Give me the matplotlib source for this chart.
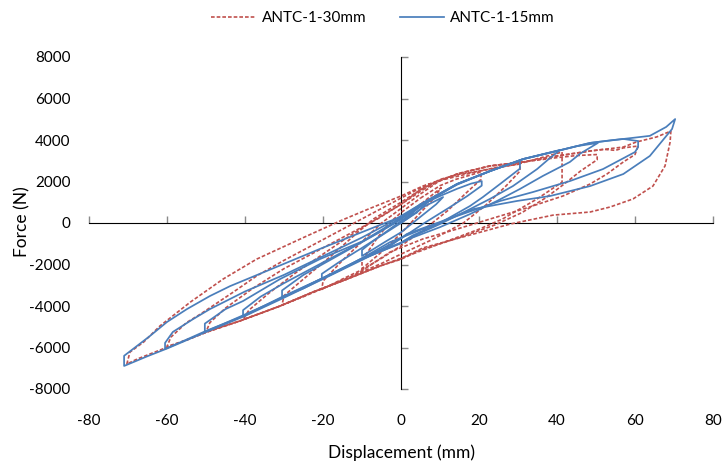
import matplotlib
matplotlib.use("Agg")
import matplotlib.pyplot as plt

# ---------------- data ----------------
# ANTC-1-15mm (blue, solid) : one path per displacement cycle
blue_c1_x = [0, 3, 6, 10.8, 9, 6, 3, 0, -4, -7, -10, -10, -7, -4, 0, 3]
blue_c1_f = [0, 400, 800, 1250, 900, 450, 0, -450, -900, -1250, -1590, -1300, -850, -450, 100, 500]

blue_c2_x = [3, 6, 10, 14.4, 18, 20.7, 20.7, 17, 12, 6, 0, -5, -10, -15, -20.3, -20.3, -16, -10, -5, 0, 4]
blue_c2_f = [500, 950, 1300, 1650, 1900, 2020, 1800, 1300, 700, 0, -750, -1250, -1700, -2200, -2700, -2450, -1900, -1200, -600, 0, 500]

blue_c3_x = [4, 8, 14.4, 22.8, 27, 30.5, 30.5, 25.4, 21, 17.7, 10, 3, 0, -10, -20.3, -25, -30.5, -30.5, -25, -15, -6, 0, 6]
blue_c3_f = [500, 1200, 1850, 2500, 2780, 2990, 2620, 1880, 1250, 820, 0, -600, -950, -1750, -2700, -3150, -3570, -3250, -2500, -1450, -500, 200, 1000]

blue_c4_x = [6, 14.4, 22.8, 31.3, 36, 40.8, 38, 34.9, 28.7, 22.8, 17.7, 10, 3, 0, -10, -20, -30.5, -35, -40.5, -40.5, -36, -30, -20, -10, -3, 5]
blue_c4_f = [1000, 1880, 2500, 3080, 3300, 3520, 3100, 2600, 1780, 1160, 670, -50, -650, -950, -1720, -2650, -3560, -3980, -4480, -4200, -3550, -2900, -1900, -900, -100, 900]

blue_c5_x = [5, 14.4, 22.8, 31.3, 40, 45, 50.5, 46, 43.3, 36.4, 30.5, 24.6, 17.7, 10, 3, 0, -10, -20, -30, -40.5, -45, -50.3, -50.3, -45, -40.5, -31, -20.8, -9.7, -2, 5]
blue_c5_f = [900, 1880, 2500, 3080, 3470, 3700, 3860, 3350, 2940, 2270, 1640, 1060, 430, -200, -700, -980, -1730, -2650, -3560, -4450, -4820, -5250, -4850, -4150, -3760, -2700, -1740, -870, -50, 800]

blue_c6_x = [5, 14.4, 22.8, 31.3, 40, 48.5, 54, 57, 60.8, 60.8, 60, 51.8, 43.3, 33.8, 25.4, 14.4, 5.6, -2.8, -10, -20, -30, -40, -50, -55, -60.5, -60.5, -58.5, -53.3, -49, -40, -30, -20, -10, -3, 5]
blue_c6_f = [800, 1880, 2500, 3080, 3470, 3860, 3990, 4050, 3950, 3660, 3420, 2600, 2020, 1490, 1060, 340, -290, -920, -1700, -2650, -3560, -4450, -5200, -5620, -6070, -5780, -5250, -4630, -4150, -3300, -2500, -1600, -700, 0, 900]

blue_c7_x = [5, 14.4, 22.8, 31.3, 40, 48.5, 57, 63.8, 68, 70.3, 69.5, 63.8, 57, 48.5, 38.2, 29.7, 18.5, 10, 1.5, -2.8, -10, -20, -30, -40, -50, -60, -65, -71, -71, -68.7, -64.4, -60, -54.9, -49, -43.8, -34.4, -20.8, -8, 0, 3]
blue_c7_f = [900, 1880, 2500, 3080, 3470, 3860, 4050, 4200, 4630, 5010, 4530, 3230, 2360, 1780, 1300, 1060, 670, 50, -530, -1110, -1780, -2700, -3600, -4480, -5250, -6050, -6420, -6890, -6400, -6070, -5450, -4770, -4150, -3520, -3040, -2310, -1250, -290, 300, 600]

# ANTC-1-30mm (red, dashed)
red_c1_x = [0, 5, 10.3, 8, 4, 0, -5, -10, -10, -6, -3, 0, 5]
red_c1_f = [0, 900, 1700, 1100, 300, -500, -1400, -2200, -1800, -700, 0, 500, 1200]

red_c2_x = [5, 10, 14, 20.5, 20.5, 17, 12, 6, 0, -5, -10, -15, -20.3, -20, -15, -10, -5, 0, 5]
red_c2_f = [1200, 1800, 2100, 2460, 2100, 1500, 600, -300, -1100, -1700, -2250, -2700, -3200, -2800, -1800, -900, 0, 700, 1400]

red_c3_x = [5, 10, 20, 25, 30.5, 30.5, 27, 22, 16, 8, 0, -5, -10, -20, -25, -30.5, -30, -25, -18, -12, -7, 0, 5]
red_c3_f = [1400, 2050, 2500, 2700, 2840, 2500, 1800, 900, 0, -800, -1500, -1950, -2350, -3150, -3550, -3950, -3500, -2700, -1600, -600, 200, 1000, 1600]

red_c4_x = [5, 10, 15, 20, 30, 35, 41.3, 41.3, 34.9, 26, 20, 10, 0, -5, -13.8, -22.6, -31, -36, -40.5, -39, -34, -27, -20, -13, -8, 0, 5.6]
red_c4_f = [1600, 2100, 2350, 2500, 2840, 3100, 3420, 1970, 1160, 190, -300, -1000, -1700, -2050, -2700, -3330, -4000, -4350, -4650, -4200, -3400, -2400, -1500, -600, 0, 900, 1600]

red_c5_x = [5.6, 10, 15, 22.8, 31.3, 40, 45, 50.3, 50.3, 46, 42, 37, 31, 24, 15, 5, 0, -5.4, -13.8, -22.6, -31, -41.3, -50, -49, -45, -38, -30, -20, -12, -6, 0, 5.6]
red_c5_f = [1600, 2050, 2400, 2750, 2940, 3150, 3250, 3300, 3050, 2500, 1900, 1200, 500, -100, -700, -1300, -1750, -2070, -2700, -3330, -4000, -4720, -5250, -4800, -4100, -3150, -2200, -1200, -400, 200, 900, 1700]

red_c6_x = [5.6, 14.4, 22.8, 31.3, 40, 48.5, 52, 55, 57, 60.8, 60, 57, 52.8, 48.5, 41.5, 31.3, 22.8, 14.4, 5.6, -2.8, -10, -13.8, -22.6, -31, -41.3, -49.7, -55, -60, -59, -55, -51.5, -43, -37, -30, -20, -12, -5, 0, 5.6]
red_c6_f = [1700, 2360, 2750, 2940, 3230, 3470, 3550, 3500, 3620, 3710, 3300, 2940, 2360, 1880, 1300, 670, 190, -290, -770, -1400, -2300, -2700, -3330, -4000, -4720, -5250, -5650, -5950, -5500, -4800, -4400, -3330, -2550, -1800, -800, 0, 700, 1200, 1750]

red_c7_x = [5.6, 14.4, 22.8, 31.3, 40, 48.5, 57, 60.3, 65.6, 69.2, 69, 67.7, 64.6, 59.5, 53.6, 48.5, 39, 28, 16.9, 5.6, -0.3, -5.4, -13.8, -22.6, -31, -41.3, -49.7, -59.2, -67.7, -70.3, -69.5, -66, -61.8, -54, -45.6, -37, -25, -15, -8, 0, 5.6, 10]
red_c7_f = [1750, 2360, 2750, 2940, 3230, 3470, 3660, 3900, 4150, 4430, 3900, 2750, 1780, 1160, 770, 530, 380, -50, -620, -1200, -1740, -2070, -2700, -3330, -4000, -4720, -5250, -5930, -6560, -6800, -6220, -5740, -4960, -3810, -2700, -1740, -700, 150, 700, 1300, 1780, 2050]

blue_x = [blue_c1_x, blue_c2_x, blue_c3_x, blue_c4_x, blue_c5_x, blue_c6_x, blue_c7_x]
blue_f = [blue_c1_f, blue_c2_f, blue_c3_f, blue_c4_f, blue_c5_f, blue_c6_f, blue_c7_f]
red_x = [red_c1_x, red_c2_x, red_c3_x, red_c4_x, red_c5_x, red_c6_x, red_c7_x]
red_f = [red_c1_f, red_c2_f, red_c3_f, red_c4_f, red_c5_f, red_c6_f, red_c7_f]

x_ticks = [-80, -60, -40, -20, 0, 20, 40, 60, 80]
y_ticks = [-8000, -6000, -4000, -2000, 0, 2000, 4000, 6000, 8000]
label_red = "ANTC-1-30mm"
label_blue = "ANTC-1-15mm"

# ---------------- drawing ----------------
plt.rcParams['font.family'] = ['Lato', 'DejaVu Sans']
BLUE = '#4A7EBB'
RED = '#C0504D'
GRAY = '#898989'

fig = plt.figure(figsize=(7.27, 4.66), dpi=100)
ax = fig.add_axes([89/727, 1 - 389/466, 624/727, 332/466])
ax.set_xlim(-80, 80)
ax.set_ylim(-8000, 8000)

for i, (xs, fs) in enumerate(zip(red_x, red_f)):
    ax.plot(xs, fs, color=RED, lw=1.2, linestyle=(0, (2.2, 1.2)),
            label=label_red if i == 0 else None, zorder=2)
for i, (xs, fs) in enumerate(zip(blue_x, blue_f)):
    ax.plot(xs, fs, color=BLUE, lw=1.25, solid_joinstyle='round',
            label=label_blue if i == 0 else None, zorder=3)

for s in ax.spines.values():
    s.set_visible(False)
ax.set_xticks(x_ticks)
ax.set_yticks(y_ticks)
ax.set_xticklabels([str(v) for v in x_ticks])
ax.set_yticklabels([str(v) for v in y_ticks])
ax.tick_params(axis='x', length=0, pad=18, labelsize=11, colors='black')
ax.tick_params(axis='y', length=0, pad=13.2, labelsize=11, colors='black')

# axis lines crossing at the origin (Excel style)
sy = ax.secondary_yaxis(0.5)
sy.set_yticks(y_ticks)
sy.set_yticklabels([])
sy.tick_params(direction='out', length=5, color=GRAY, width=1)
sy.spines['left'].set_color(GRAY)
sy.spines['left'].set_linewidth(1)
sx = ax.secondary_xaxis(0.5)
sx.set_xticks(x_ticks)
sx.set_xticklabels([])
sx.tick_params(direction='out', length=5, color=GRAY, width=1)
sx.spines['bottom'].set_color(GRAY)
sx.spines['bottom'].set_linewidth(1)

fig.text(401/727, 1 - 453/466, "Displacement (mm)", ha='center', va='center', fontsize=12.5)
fig.text(22/727, 1 - 222/466, "Force (N)", ha='center', va='center', rotation=90, fontsize=12.5)

fig.legend(loc='center', bbox_to_anchor=(383/727, 1 - 18/466), ncol=2, frameon=False,
           fontsize=11, handlelength=2.9, handletextpad=0.4, columnspacing=2.2)

fig.savefig("out.png", dpi=100)
